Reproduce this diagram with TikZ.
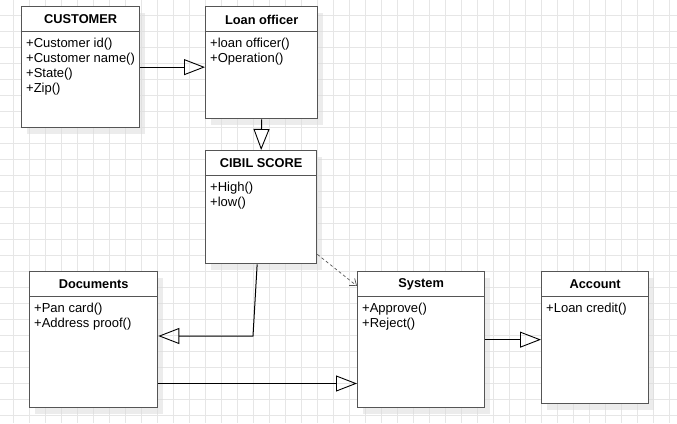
\documentclass[tikz,border=0pt]{standalone}
\usepackage{fontspec}
\setmainfont{Liberation Sans}
\usetikzlibrary{arrows.meta,shadows,calc}
\definecolor{gridc}{HTML}{E6E6E6}
\definecolor{boxc}{HTML}{555555}
\tikzset{
  cls/.style={draw=boxc, line width=1.3pt, fill=white, anchor=north west, inner sep=0pt,
    drop shadow={shadow xshift=5pt, shadow yshift=-6pt, fill=black!14, opacity=0.5}},
  ttl/.style={font=\bfseries\fontsize{12.8}{14}\selectfont, inner sep=0pt},
  body/.style={font=\fontsize{13}{15}\selectfont, align=left, anchor=north west, inner sep=1pt},
  gen/.style={line width=1pt, -{Triangle[open, length=21pt, width=16pt, line width=0.9pt]}},
  dep/.style={boxc, line width=0.7pt, dash pattern=on 3pt off 2.5pt, -{Straight Barb[length=6pt, width=9pt, line width=0.7pt]}}
}
\newcommand\umlbox[7]{%
  \node[cls, minimum width=#4pt, minimum height=#5pt] (#1) at (#2,#3) {};
  \draw[boxc, line width=1.3pt] ([yshift=-25.5pt]#1.north west) -- ([yshift=-25.5pt]#1.north east);
  \node[ttl] (#1-t) at ([yshift=-13.5pt]#1.north) {#6};
  \node[body] (#1-b) at ([xshift=4pt,yshift=-30.5pt]#1.north west) {#7};
}
\begin{document}
\begin{tikzpicture}[x=1pt, y=-1pt]
\useasboundingbox[fill=white] (0,0) rectangle (677,423);
\foreach \i in {0,...,41} \draw[gridc, line width=0.8pt] (13.3+16*\i,0) -- (13.3+16*\i,423);
\foreach \j in {0,...,25} \draw[gridc, line width=0.8pt] (0,15.3+16*\j) -- (677,15.3+16*\j);

\umlbox{cust}{21}{6}{118}{121}{CUSTOMER}{+Customer id()\\+Customer name()\\+State()\\+Zip()}
\umlbox{loan}{205}{6}{112}{112}{Loan officer}{+loan officer()\\+Operation()}
\umlbox{cibil}{205}{150}{111}{113}{CIBIL SCORE}{+High()\\+low()}
\umlbox{docs}{29}{271}{128}{136}{Documents}{+Pan card()\\+Address proof()}
\umlbox{sys}{357}{271}{127}{136}{System}{+Approve()\\+Reject()}
\umlbox{acc}{541}{271}{107}{132}{Account}{+Loan credit()}

\coordinate (bend) at (253,336);
\coordinate (row) at (0,383.5);

\draw[gen] (cust.east) -- (cust.east -| loan.west);
\draw[gen] (loan.south) -- (cibil.north);
\draw[gen, line join=miter] ([xshift=-4pt]cibil.south) -- (bend) -- (bend -| docs.east);
\draw[gen] (docs.east |- row) -- (sys.west |- row);
\draw[gen] (sys.east) -- (sys.east -| acc.west);
\draw[dep] ([yshift=10pt]cibil.south east) -- ([yshift=-15pt]sys.north west);
\end{tikzpicture}
\end{document}
